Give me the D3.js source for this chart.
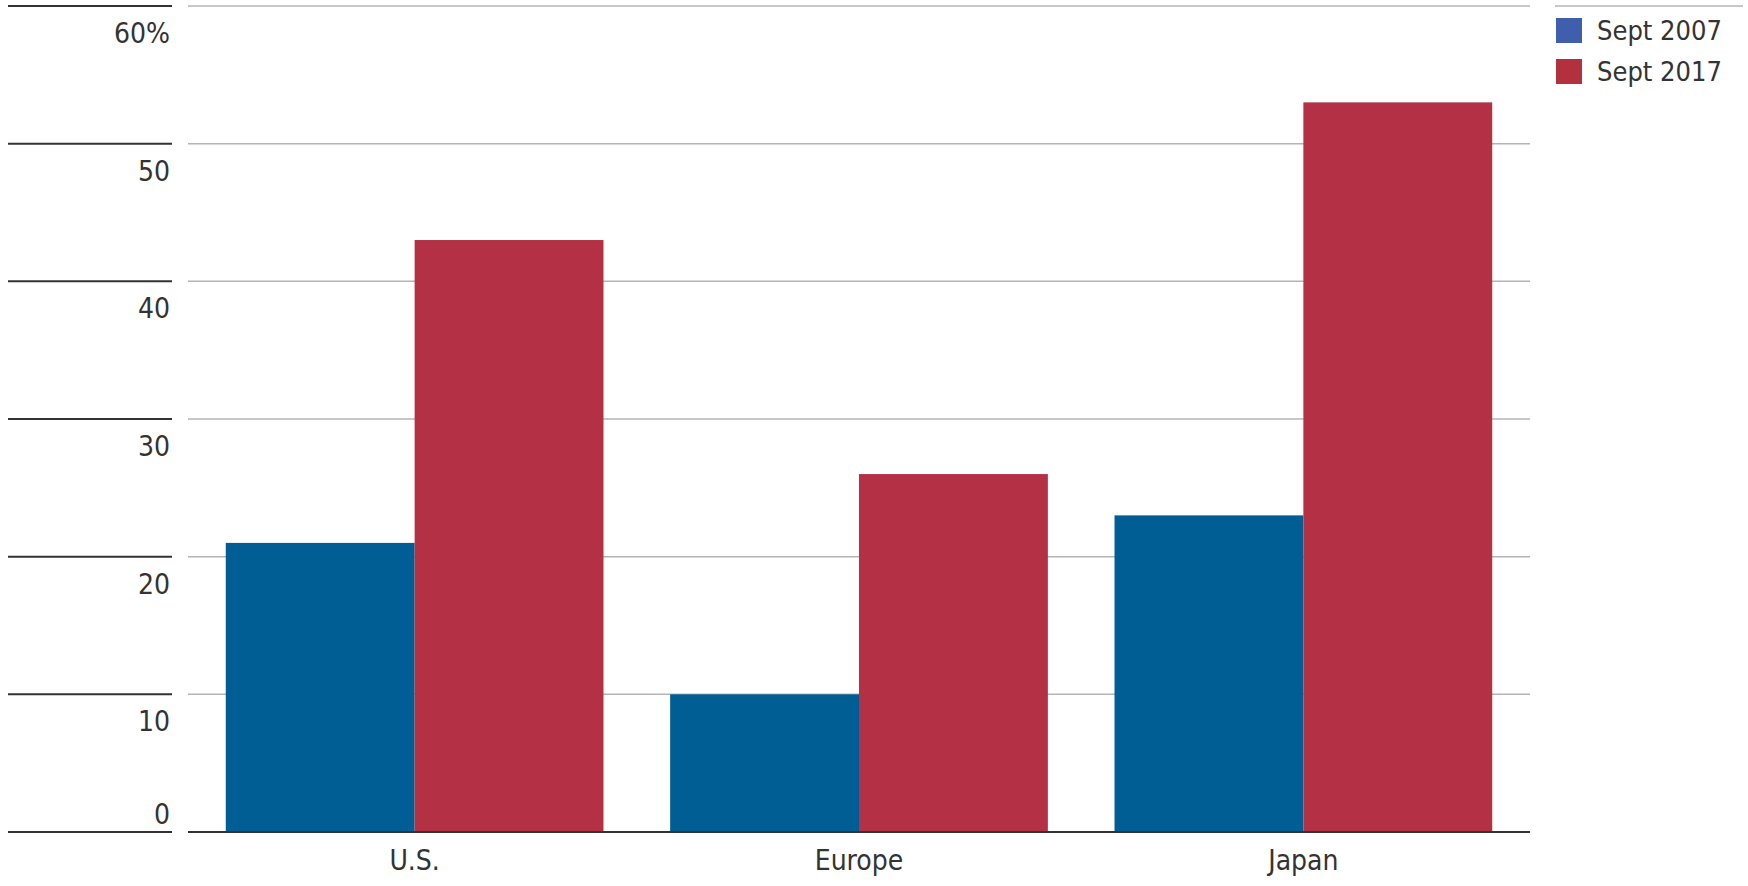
<!DOCTYPE html>
<html>
<head>
<meta charset="utf-8">
<script src="https://cdn.jsdelivr.net/npm/d3@7"></script>
<style>
  body { margin: 0; background: #fff; }
  text { font-family: "Liberation Sans Narrow", "DejaVu Sans Condensed", "Roboto", sans-serif; font-stretch: condensed; fill: #333; }
</style>
</head>
<body>
<div id="chart"></div>
<script>
var width = 1748;
var height = 886;

// data
var regions = ["U.S.", "Europe", "Japan"];
var seriesNames = ["Sept 2007", "Sept 2017"];
var sept2007 = [21, 10, 23];
var sept2017 = [43, 26, 53];
var yTicks = [0, 10, 20, 30, 40, 50, 60];
var barColors = ["#005e94", "#b33045"];
var legendColors = ["#3f5eae", "#b3303f"];

var plotLeft = 188;
var plotRight = 1530;
var plotTop = 6;
var plotBottom = 832;

var svg = d3.select("#chart")
    .append("svg")
    .attr("width", width)
    .attr("height", height);

var y = d3.scaleLinear()
    .domain([0, 60])
    .range([plotBottom, plotTop]);

var x0 = d3.scaleBand()
    .domain(regions)
    .range([plotLeft, plotRight])
    .paddingInner(0.15)
    .paddingOuter(0.085);

var x1 = d3.scaleBand()
    .domain(seriesNames)
    .range([0, x0.bandwidth()]);

// gridlines
svg.append("g")
    .selectAll("line")
    .data(yTicks.filter(d => d > 0))
    .join("line")
    .attr("x1", plotLeft)
    .attr("x2", plotRight)
    .attr("y1", d => y(d))
    .attr("y2", d => y(d))
    .attr("stroke", "#b4b4b4")
    .attr("stroke-width", 1.5);

// left label rules
svg.append("g")
    .selectAll("line")
    .data(yTicks)
    .join("line")
    .attr("x1", 8)
    .attr("x2", 172)
    .attr("y1", d => y(d))
    .attr("y2", d => y(d))
    .attr("stroke", "#333")
    .attr("stroke-width", 2);

// tick labels (the 0 sits above its rule)
svg.append("g")
    .selectAll("text")
    .data(yTicks)
    .join("text")
    .attr("x", 170)
    .attr("y", d => d === 0 ? y(d) - 8 : y(d) + 37)
    .attr("text-anchor", "end")
    .style("font-size", "28px")
    .text(d => d === 60 ? d + "%" : d);

// bars
var rows = regions.map((r, i) => ({region: r, values: [sept2007[i], sept2017[i]]}));

svg.append("g")
    .selectAll("g")
    .data(rows)
    .join("g")
    .attr("transform", d => "translate(" + x0(d.region) + ",0)")
    .selectAll("rect")
    .data(d => d.values.map((v, j) => ({key: seriesNames[j], value: v, idx: j})))
    .join("rect")
    .attr("x", d => x1(d.key))
    .attr("width", x1.bandwidth())
    .attr("y", d => y(d.value))
    .attr("height", d => y(0) - y(d.value))
    .attr("fill", d => barColors[d.idx]);

// baseline
svg.append("line")
    .attr("x1", plotLeft)
    .attr("x2", plotRight)
    .attr("y1", y(0))
    .attr("y2", y(0))
    .attr("stroke", "#333")
    .attr("stroke-width", 2);

// x labels
svg.append("g")
    .selectAll("text")
    .data(regions)
    .join("text")
    .attr("x", d => x0(d) + x0.bandwidth() / 2)
    .attr("y", 870)
    .attr("text-anchor", "middle")
    .style("font-size", "28px")
    .text(d => d);

// legend
svg.append("line")
    .attr("x1", 1555)
    .attr("x2", 1743)
    .attr("y1", plotTop)
    .attr("y2", plotTop)
    .attr("stroke", "#b4b4b4")
    .attr("stroke-width", 1.5);

var legend = svg.append("g")
    .selectAll("g")
    .data(seriesNames)
    .join("g")
    .attr("transform", (d, i) => "translate(1556," + (18 + i * 41) + ")");

legend.append("rect")
    .attr("width", 26)
    .attr("height", 25)
    .attr("fill", (d, i) => legendColors[i]);

legend.append("text")
    .attr("x", 41)
    .attr("y", 22)
    .style("font-size", "27px")
    .text(d => d);
</script>
</body>
</html>
